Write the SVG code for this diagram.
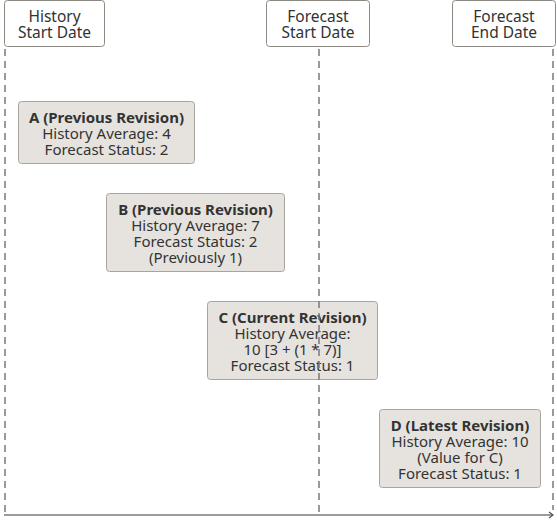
<svg xmlns="http://www.w3.org/2000/svg" width="557" height="520" viewBox="0 0 557 520">
<style>
.hdr{fill:#ffffff;stroke:#8c8882;stroke-width:1}
.box{fill:#e6e3de;stroke:#a8a49e;stroke-width:1}
text{font-family:"Noto Sans","Open Sans",sans-serif;font-size:15px;fill:#333333;text-anchor:middle}
.h{font-size:15.5px}
.b{font-weight:bold}
.dash{stroke:#7a7a7a;stroke-width:1.5;stroke-dasharray:7 5;fill:none}
.axis{stroke:#7a7a7a;stroke-width:1.5;fill:none}
</style>
<defs>
<marker id="arr" markerWidth="8" markerHeight="8" refX="6" refY="4" orient="auto" markerUnits="userSpaceOnUse">
<path d="M2,1 L6,4 L2,7" fill="none" stroke="#555" stroke-width="1.2"/>
</marker>
</defs>
<g id="history-start">
<rect class="hdr" x="4.5" y="0.5" width="100" height="46" rx="3"/>
<text class="h" x="54.5" y="22">History</text>
<text class="h" x="54.5" y="38">Start Date</text>
</g>
<g id="forecast-start">
<rect class="hdr" x="266.5" y="0.5" width="103" height="46" rx="3"/>
<text class="h" x="318" y="22">Forecast</text>
<text class="h" x="318" y="38">Start Date</text>
</g>
<g id="forecast-end">
<rect class="hdr" x="452.5" y="0.5" width="103" height="46" rx="3"/>
<text class="h" x="504" y="22">Forecast</text>
<text class="h" x="504" y="38">End Date</text>
</g>
<g id="A">
<rect class="box" x="18.5" y="101.5" width="176" height="62" rx="3"/>
<text class="b" x="106.5" y="123">A (Previous Revision)</text>
<text x="106.5" y="139">History Average: 4</text>
<text x="106.5" y="155">Forecast Status: 2</text>
</g>
<g id="B">
<rect class="box" x="106.5" y="193.5" width="178" height="78" rx="3"/>
<text class="b" x="195.5" y="215">B (Previous Revision)</text>
<text x="195.5" y="231">History Average: 7</text>
<text x="195.5" y="247">Forecast Status: 2</text>
<text x="195.5" y="263">(Previously 1)</text>
</g>
<g id="C">
<rect class="box" x="207.5" y="301.5" width="170" height="78" rx="3"/>
<text class="b" x="292.5" y="323">C (Current Revision)</text>
<text x="292.5" y="339">History Average:</text>
<text x="292.5" y="355">10 [3 + (1 * 7)]</text>
<text x="292.5" y="371">Forecast Status: 1</text>
</g>
<g id="D">
<rect class="box" x="379.5" y="409.5" width="161" height="78" rx="3"/>
<text class="b" x="460" y="431">D (Latest Revision)</text>
<text x="460" y="447">History Average: 10</text>
<text x="460" y="463">(Value for C)</text>
<text x="460" y="479">Forecast Status: 1</text>
</g>
<g id="connectors">
<line class="dash" x1="5" y1="49" x2="5" y2="514"/>
<line class="dash" x1="319" y1="49" x2="319" y2="514"/>
<line class="dash" x1="553" y1="49" x2="553" y2="510"/>
<line class="axis" x1="4" y1="515" x2="553" y2="515" marker-end="url(#arr)"/>
</g>
</svg>
